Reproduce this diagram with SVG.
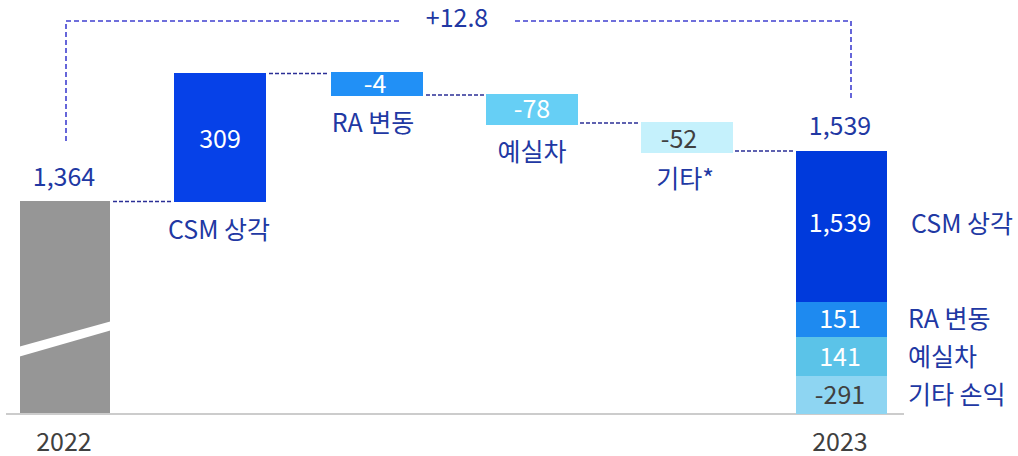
<svg xmlns="http://www.w3.org/2000/svg" width="1018" height="456" viewBox="0 0 1018 456">
<style>
text{font-family:"Noto Sans CJK KR","Noto Sans",sans-serif;font-size:25px}
.lb{fill:#2138A3}
.w{fill:#FFFFFF}
.d{fill:#404040}
.m{text-anchor:middle}
.conn{stroke:#2B2F96;stroke-width:1.3;stroke-dasharray:4 2;fill:none}
.br{stroke:#4040D0;stroke-width:1.6;stroke-dasharray:5 3;fill:none}
</style>
<rect width="1018" height="456" fill="#FFFFFF"/>
<g id="connectors">
<path class="br" d="M66 141 V21 H400"/>
<path class="br" d="M515 21 H851 V99"/>
<path class="conn" d="M113 201.5 H172"/>
<path class="conn" d="M269 73.5 H328"/>
<path class="conn" d="M426 95 H484"/>
<path class="conn" d="M580 123 H639"/>
<path class="conn" d="M735 151 H793"/>
</g>
<line x1="6" y1="414" x2="904" y2="414" stroke="#BBBBBB" stroke-width="1.5"/>
<g id="total-label"><text class="lb m" x="457" y="27">+12.8</text></g>
<g id="bar-2022">
<rect x="20" y="201" width="90" height="212" fill="#969696"/>
<polygon points="18,347 112,321 112,330 18,357" fill="#FFFFFF"/>
<text class="lb m" x="64" y="186">1,364</text>
<text class="d m" x="64" y="451">2022</text>
</g>
<g id="csm">
<rect x="174" y="73" width="92" height="129" fill="#0641E8"/>
<text class="w m" x="220" y="148">309</text>
<text class="lb m" x="219" y="239">CSM 상각</text>
</g>
<g id="ra">
<rect x="331" y="72" width="92" height="24" fill="#2190F6"/>
<text class="w m" x="375" y="93">-4</text>
<text class="lb m" x="373" y="132">RA 변동</text>
</g>
<g id="exp">
<rect x="486" y="94" width="92" height="31" fill="#66CFF5"/>
<text class="w m" x="532" y="118">-78</text>
<text class="lb m" x="532" y="161">예실차</text>
</g>
<g id="other">
<rect x="641" y="122" width="92" height="31" fill="#C5F1FC"/>
<text class="d m" x="679" y="148">-52</text>
<text class="lb m" x="685" y="188">기타*</text>
</g>
<g id="bar-2023">
<rect x="796" y="151" width="91" height="151" fill="#003ADC"/>
<rect x="796" y="302" width="91" height="35" fill="#1E8AF0"/>
<rect x="796" y="337" width="91" height="39" fill="#5BC3E8"/>
<rect x="796" y="376" width="91" height="38" fill="#8ED5F2"/>
<text class="lb m" x="840" y="135">1,539</text>
<text class="w m" x="840" y="232">1,539</text>
<text class="w m" x="840" y="328">151</text>
<text class="w m" x="840" y="366">141</text>
<text class="d m" x="840" y="404">-291</text>
<text class="d m" x="840" y="451">2023</text>
<text class="lb" x="911" y="233">CSM 상각</text>
<text class="lb" x="908" y="328">RA 변동</text>
<text class="lb" x="908" y="366">예실차</text>
<text class="lb" x="908" y="404">기타 손익</text>
</g>
</svg>
